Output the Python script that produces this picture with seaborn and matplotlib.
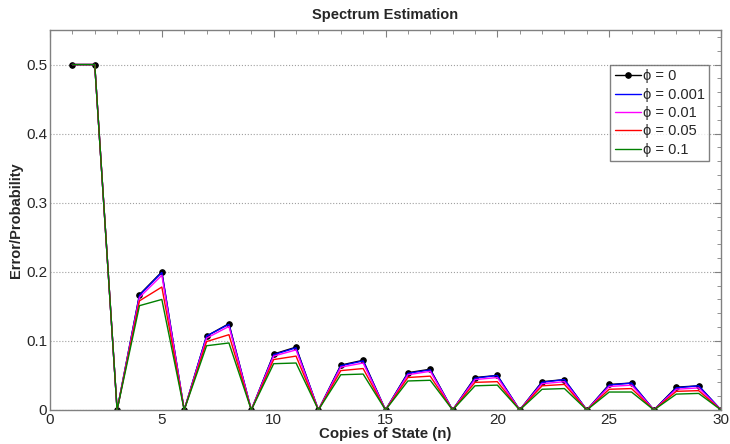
import numpy as np
import pandas as pd
import matplotlib
matplotlib.use("Agg")
import matplotlib.pyplot as plt
import seaborn as sns
from matplotlib.ticker import MultipleLocator

# copies of state
n = list(range(1, 31))

# error/probability for each phi
phi_0 = [0.5, 0.5, 0, 0.167, 0.200, 0, 0.107, 0.125, 0, 0.081, 0.091, 0,
         0.065, 0.072, 0, 0.054, 0.059, 0, 0.047, 0.050, 0, 0.041, 0.044, 0,
         0.037, 0.039, 0, 0.033, 0.035, 0]
phi_0001 = [0.5, 0.5, 0, 0.166, 0.199, 0, 0.107, 0.124, 0, 0.080, 0.090, 0,
            0.064, 0.071, 0, 0.053, 0.058, 0, 0.046, 0.050, 0, 0.040, 0.044, 0,
            0.036, 0.039, 0, 0.032, 0.035, 0]
phi_001 = [0.5, 0.5, 0, 0.163, 0.195, 0, 0.104, 0.121, 0, 0.078, 0.087, 0,
           0.062, 0.068, 0, 0.051, 0.056, 0, 0.044, 0.047, 0, 0.038, 0.041, 0,
           0.034, 0.036, 0, 0.030, 0.032, 0]
phi_005 = [0.5, 0.5, 0, 0.158, 0.178, 0, 0.099, 0.109, 0, 0.073, 0.078, 0,
           0.057, 0.060, 0, 0.047, 0.049, 0, 0.040, 0.041, 0, 0.035, 0.037, 0,
           0.030, 0.031, 0, 0.027, 0.028, 0]
phi_01 = [0.5, 0.5, 0, 0.151, 0.160, 0, 0.093, 0.097, 0, 0.067, 0.068, 0,
          0.051, 0.052, 0, 0.042, 0.043, 0, 0.035, 0.036, 0, 0.030, 0.031, 0,
          0.026, 0.026, 0, 0.023, 0.024, 0]

labels = ["\u03d5 = 0", "\u03d5 = 0.001", "\u03d5 = 0.01", "\u03d5 = 0.05", "\u03d5 = 0.1"]
colors = ["black", "blue", "magenta", "red", "green"]
series = [phi_0, phi_0001, phi_001, phi_005, phi_01]

sns.set_style("white")
plt.rcParams['font.family'] = ['Liberation Sans', 'DejaVu Sans']

fig = plt.figure(figsize=(7.3, 4.44), dpi=100)
ax = fig.add_axes([0.0685, 0.0766, 0.9192, 0.8558])

for vals, lab, col in zip(series, labels, colors):
    df = pd.DataFrame({"n": n, "err": vals})
    if col == "black":
        sns.lineplot(data=df, x="n", y="err", ax=ax, color=col, label=lab,
                     marker="o", markersize=4, markeredgecolor="black",
                     linewidth=1.0)
    else:
        sns.lineplot(data=df, x="n", y="err", ax=ax, color=col, label=lab,
                     linewidth=1.0)

ax.set_xlim(0, 30)
ax.set_ylim(0, 0.55)
ax.set_xticks([0, 5, 10, 15, 20, 25, 30])
ax.set_xticklabels(["0", "5", "10", "15", "20", "25", "30"])
ax.set_yticks([0, 0.1, 0.2, 0.3, 0.4, 0.5])
ax.set_yticklabels(["0", "0.1", "0.2", "0.3", "0.4", "0.5"])
ax.xaxis.set_minor_locator(MultipleLocator(1))
ax.yaxis.set_minor_locator(MultipleLocator(0.02))
ax.tick_params(which="both", direction="in", top=True, right=True,
               color="#808080", labelsize=11, pad=2)
ax.tick_params(which="major", length=5)
ax.tick_params(which="minor", length=3)
for sp in ax.spines.values():
    sp.set_color("#808080")
    sp.set_linewidth(1)

ax.yaxis.grid(True, linestyle=":", color="#a0a0a0", linewidth=0.8)
ax.set_axisbelow(True)

ax.set_title("Spectrum Estimation", fontsize=10.5, fontweight="bold", pad=8)
ax.set_xlabel("Copies of State (n)", fontsize=10.8, fontweight="bold", labelpad=0)
ax.set_ylabel("Error/Probability", fontsize=10.5, fontweight="bold", labelpad=2)

leg = ax.legend(loc="upper right", bbox_to_anchor=(0.982, 0.908), fontsize=10.5,
                frameon=True, fancybox=False, handlelength=1.8, handletextpad=0.1,
                borderpad=0.3, labelspacing=0.3, borderaxespad=0)
leg.get_frame().set_edgecolor("#606060")
leg.get_frame().set_linewidth(1)

fig.savefig("out.png", dpi=100)
